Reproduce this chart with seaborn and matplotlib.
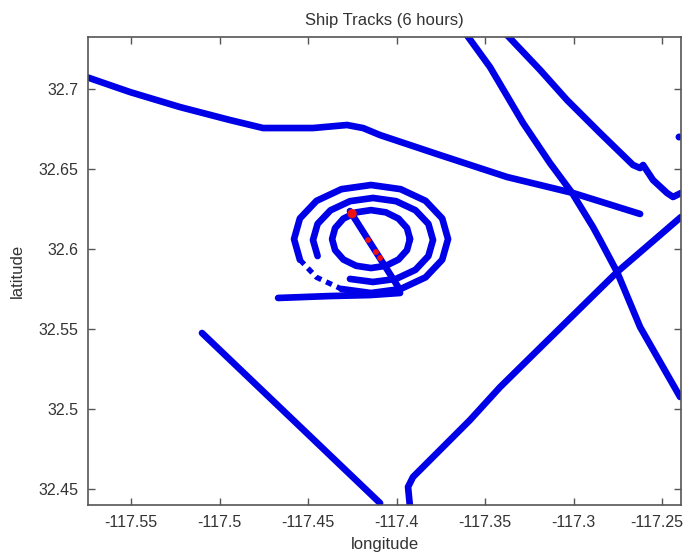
import numpy as np
import pandas as pd
import seaborn as sns
import matplotlib
matplotlib.use("Agg")
import matplotlib.pyplot as plt
from matplotlib.transforms import ScaledTranslation

sns.set_style("ticks")
plt.rcParams["font.family"] = ["Liberation Sans", "DejaVu Sans"]

# Ship tracks: longitude / latitude vertices
track1_lon = [-117.5760, -117.5506, -117.5223, -117.4941, -117.4754, -117.4472, -117.4280,
              -117.4189, -117.4093, -117.3754, -117.3376, -117.3003, -117.2624]
track1_lat = [32.7080, 32.6983, 32.6889, 32.6808, 32.6758, 32.6758, 32.6777,
              32.6758, 32.6714, 32.6589, 32.6452, 32.6352, 32.6221]

track2_lon = [-117.3607, -117.3472, -117.3285, -117.3133, -117.3008, -117.2890, -117.2850,
              -117.2754, -117.2624, -117.2398]
track2_lat = [32.7345, 32.7139, 32.6789, 32.6539, 32.6352, 32.6139, 32.6058,
              32.5858, 32.5514, 32.5077]

track3_lon = [-117.3381, -117.3189, -117.3037, -117.2850, -117.2664, -117.2624, -117.2607,
              -117.2551, -117.2472, -117.2438, -117.2393]
track3_lat = [32.7345, 32.7121, 32.6933, 32.6727, 32.6527, 32.6508, 32.6527,
              32.6433, 32.6352, 32.6327, 32.6352]

track4_lon = [-117.3924, -117.3935, -117.3907, -117.3754, -117.3585, -117.3415, -117.2754,
              -117.2393]
track4_lat = [32.4390, 32.4515, 32.4577, 32.4746, 32.4933, 32.5139, 32.5858,
              32.6202]

track5_lon = [-117.5099, -117.4093]
track5_lat = [32.5477, 32.4414]

# Survey pattern: three loops, an approach leg and a crossing leg
outer_lon = [-117.4546, -117.4579, -117.4546, -117.4452, -117.4311, -117.4144, -117.3977,
             -117.3836, -117.3742, -117.3709, -117.3742, -117.3836, -117.3977, -117.4144,
             -117.4311]
outer_lat = [32.5935, 32.6064, 32.6193, 32.6303, 32.6376, 32.6402, 32.6376,
             32.6303, 32.6193, 32.6064, 32.5935, 32.5825, 32.5752, 32.5727,
             32.5752]
outer_gap_lon = [-117.4546, -117.4452, -117.4311]
outer_gap_lat = [32.5935, 32.5825, 32.5752]

middle_lon = [-117.4446, -117.4472, -117.4446, -117.4373, -117.4263, -117.4133, -117.4003,
              -117.3893, -117.3820, -117.3794, -117.3820, -117.3893, -117.4003, -117.4133,
              -117.4263]
middle_lat = [32.5958, 32.6058, 32.6159, 32.6244, 32.6301, 32.6321, 32.6301,
              32.6244, 32.6159, 32.6058, 32.5958, 32.5872, 32.5815, 32.5796,
              32.5815]

inner_lon = [-117.3924, -117.3941, -117.3989, -117.4060, -117.4144, -117.4228, -117.4300,
             -117.4347, -117.4364, -117.4347, -117.4300, -117.4228, -117.4144, -117.4060,
             -117.3989, -117.3941, -117.3924]
inner_lat = [32.6064, 32.6133, 32.6192, 32.6231, 32.6245, 32.6231, 32.6192,
             32.6133, 32.6064, 32.5995, 32.5936, 32.5897, 32.5883, 32.5897,
             32.5936, 32.5995, 32.6064]

approach_lon = [-117.4669, -117.4376, -117.4150, -117.3980]
approach_lat = [32.5696, 32.5708, 32.5714, 32.5727]

cross_lon = [-117.4263, -117.3980]
cross_lat = [32.6239, 32.5746]

# Isolated fix at the eastern edge
fix_lon = [-117.2404]
fix_lat = [32.6702]

# Highlighted positions on the crossing leg
red_lon = [-117.4251, -117.4161, -117.4116, -117.4093]
red_lat = [32.6223, 32.6058, 32.5983, 32.5946]
red_size = [45, 18, 18, 18]

x_ticks = [-117.55, -117.5, -117.45, -117.4, -117.35, -117.3, -117.25]
x_labels = ["-117.55", "-117.5", "-117.45", "-117.4", "-117.35", "-117.3", "-117.25"]
y_ticks = [32.45, 32.5, 32.55, 32.6, 32.65, 32.7]
y_labels = ["32.45", "32.5", "32.55", "32.6", "32.65", "32.7"]

solid = [
    ("t1", track1_lon, track1_lat), ("t2", track2_lon, track2_lat),
    ("t3", track3_lon, track3_lat), ("t4", track4_lon, track4_lat),
    ("t5", track5_lon, track5_lat), ("outer", outer_lon, outer_lat),
    ("middle", middle_lon, middle_lat), ("inner", inner_lon, inner_lat),
    ("approach", approach_lon, approach_lat), ("cross", cross_lon, cross_lat),
]
rows = []
for name, lo, la in solid:
    for a, b in zip(lo, la):
        rows.append({"track": name, "lon": a, "lat": b})
df = pd.DataFrame(rows)

BLUE = "#0000e8"

fig = plt.figure(figsize=(6.85, 5.54), dpi=100)
ax = fig.add_axes([88 / 685, 1 - 505 / 554, (681 - 88) / 685, (505 - 37) / 554])

sns.lineplot(data=df, x="lon", y="lat", units="track", estimator=None, sort=False,
             color=BLUE, lw=4.8, ax=ax, legend=False, solid_capstyle="round",
             solid_joinstyle="round")
gap = pd.DataFrame({"lon": outer_gap_lon, "lat": outer_gap_lat})
sns.lineplot(data=gap, x="lon", y="lat", estimator=None, sort=False, color=BLUE,
             lw=3.8, ax=ax, legend=False, dashes=False, linestyle=(0, (1.2, 1.0)))
sns.scatterplot(x=fix_lon, y=fix_lat, color=BLUE, s=25, edgecolor="none", ax=ax,
                legend=False)
sns.scatterplot(x=red_lon, y=red_lat, color="#ee1111", s=red_size, edgecolor="none",
                ax=ax, legend=False, zorder=5)

ax.set_xlim(-117.5743, -117.2393)
ax.set_ylim(32.4402, 32.7327)
ax.set_xticks(x_ticks)
ax.set_xticklabels(x_labels)
ax.set_yticks(y_ticks)
ax.set_yticklabels(y_labels)

edge = "#555555"
ax.tick_params(direction="in", length=5, width=1, colors=edge, labelcolor="#333333",
               labelsize=11.5, top=True, right=True)
ax.tick_params(axis="x", pad=7)
ax.tick_params(axis="y", pad=7)
for s in ax.spines.values():
    s.set_visible(True)
    s.set_color(edge)
    s.set_linewidth(1.2)

# keep the last longitude label inside the canvas
last = ax.get_xticklabels()[-1]
last.set_transform(last.get_transform() + ScaledTranslation(-4 / 72, 0, fig.dpi_scale_trans))

ax.set_xlabel("longitude", fontsize=12, color="#333333", labelpad=5)
ax.set_ylabel("latitude", fontsize=12, color="#333333", labelpad=10)
ax.set_title("Ship Tracks (6 hours)", fontsize=12, color="#333333", pad=9)

fig.savefig("out.png", dpi=100, facecolor="white")
